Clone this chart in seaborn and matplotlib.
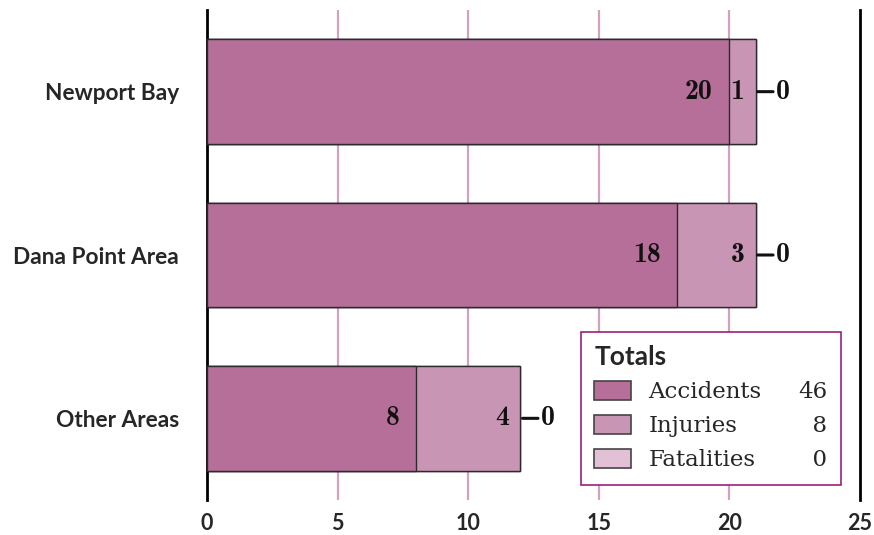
import matplotlib
matplotlib.use("Agg")
import matplotlib.pyplot as plt
import seaborn as sns
import pandas as pd
import numpy as np
from matplotlib.patches import Patch

categories = ["Newport Bay", "Dana Point Area", "Other Areas"]
accidents = [20, 18, 8]
injuries = [1, 3, 4]
fatalities = [0, 0, 0]
series_names = ["Accidents", "Injuries", "Fatalities"]
colors = ["#b56f99", "#c995b5", "#e2c0d5"]
x_ticks = [0, 5, 10, 15, 20, 25]

sns.set_theme(style="white")
plt.rcParams["font.family"] = ["Lato", "DejaVu Sans"]

df = pd.DataFrame({"cat": categories, "Accidents": accidents,
                   "Injuries": injuries, "Fatalities": fatalities})
df["c1"] = df["Accidents"]
df["c2"] = df["c1"] + df["Injuries"]
df["c3"] = df["c2"] + df["Fatalities"]

fig = plt.figure(figsize=(8.74, 5.35), dpi=100)
ax = fig.add_axes([207/874, 1-500/535, 653/874, 490/535])

for col, c in zip(["c3", "c2", "c1"], colors[::-1]):
    sns.barplot(data=df, y="cat", x=col, orient="h", color=c, saturation=1,
                width=0.64, edgecolor="#2b2b2b", linewidth=1.0, ax=ax, zorder=3)

ax.set_xlim(0, 25)
ax.set_ylim(2.5, -0.5)
ax.set_xticks(x_ticks)
ax.set_xticklabels([str(t) for t in x_ticks])
ax.set_xlabel("")
ax.set_ylabel("")
for t in x_ticks[1:-1]:
    ax.axvline(t, color="#d3a2c1", lw=1.6, zorder=1)
for s in ["top", "bottom"]:
    ax.spines[s].set_visible(False)
for s in ["left", "right"]:
    ax.spines[s].set_visible(True)
    ax.spines[s].set_color("black")
    ax.spines[s].set_linewidth(2)
ax.tick_params(axis="both", length=0)
ax.tick_params(axis="y", pad=20, labelsize=16.3)
ax.tick_params(axis="x", pad=9, labelsize=15.5)
for lab in ax.get_yticklabels() + ax.get_xticklabels():
    lab.set_fontweight("bold")

vfont = dict(family=["cmb10", "DejaVu Serif"], fontsize=20, color="#111111")
for i in range(len(categories)):
    a = df["c1"][i]; b = df["c2"][i]; e = df["c3"][i]
    ax.annotate(str(accidents[i]), xy=(a, i), xytext=(-12, 0), textcoords="offset points",
                ha="right", va="center", zorder=5, **vfont)
    ax.annotate(str(injuries[i]), xy=(b, i), xytext=(-8, 0), textcoords="offset points",
                ha="right", va="center", zorder=5, **vfont)
    ax.annotate(str(fatalities[i]), xy=(e, i), xytext=(15, 0), textcoords="offset points",
                ha="left", va="center", zorder=5,
                arrowprops=dict(arrowstyle="-", lw=2.2, color="#111111",
                                shrinkA=0, shrinkB=1.5), **vfont)

totals = [sum(accidents), sum(injuries), sum(fatalities)]
width = max(len(str(t)) for t in totals)
handles = [Patch(facecolor=c, edgecolor="#444444", linewidth=1.2) for c in colors]
handles += [Patch(facecolor="none", edgecolor="none") for _ in totals]
labels = series_names + ["\u2007" * (width - len(str(t))) + str(t) for t in totals]
leg = ax.legend(handles, labels, ncol=2, title="Totals", loc="lower right",
                bbox_to_anchor=(0.971, 0.031), borderaxespad=0,
                frameon=True, fancybox=False, framealpha=1,
                prop=dict(family=["DejaVu Serif"], size=16.5),
                handlelength=1.6, handleheight=0.9, handletextpad=0.75,
                columnspacing=-0.75, labelspacing=0.5, borderpad=0.6,
                alignment="left")
leg.get_title().set_fontsize(19)
leg.get_title().set_fontweight("bold")
leg.get_frame().set_edgecolor("#9c1f7c")
leg.get_frame().set_linewidth(1.2)
leg.set_zorder(10)

fig.savefig("out.png", dpi=100)
